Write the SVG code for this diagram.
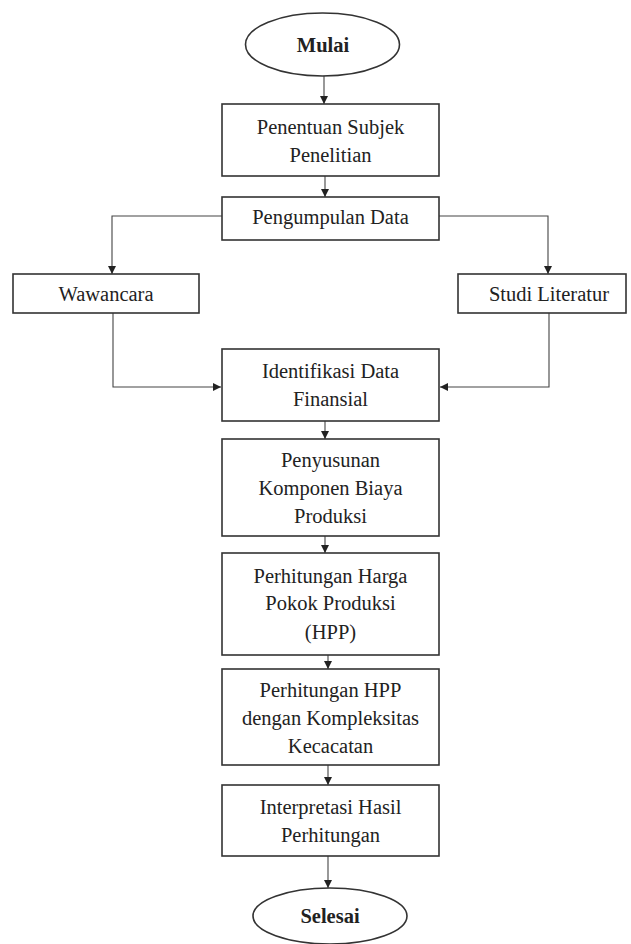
<svg xmlns="http://www.w3.org/2000/svg" width="631" height="944" viewBox="0 0 631 944">
<defs>
<marker id="ah" viewBox="0 0 10 10" refX="10" refY="5" markerWidth="8" markerHeight="8" markerUnits="userSpaceOnUse" orient="auto">
<path d="M0,0 L10,5 L0,10 z" fill="#222"/>
</marker>
<style>
.box{fill:#fff;stroke:#333;stroke-width:1.6}
.t{font-family:"Liberation Serif","Times New Roman",serif;font-size:20.5px;fill:#222;text-anchor:middle}
.b{font-weight:bold}
.c{fill:none;stroke:#444;stroke-width:1.1;marker-end:url(#ah)}
</style>
</defs>
<rect width="631" height="944" fill="#fff"/>
<g id="connectors">
<path class="c" d="M324,76 V104"/>
<path class="c" d="M325,176 V197"/>
<path class="c" d="M222,216 H112 V274"/>
<path class="c" d="M439,216 H548 V274"/>
<path class="c" d="M113,313 V387 H221"/>
<path class="c" d="M549,313 V387 H440"/>
<path class="c" d="M325,421 V439"/>
<path class="c" d="M325,536 V553"/>
<path class="c" d="M328,655 V669"/>
<path class="c" d="M328,765 V785"/>
<path class="c" d="M328,856 V888"/>
</g>
<g id="mulai">
<ellipse class="box" cx="322.5" cy="44.5" rx="77" ry="31.5"/>
<text class="t b" x="323" y="52">Mulai</text>
</g>
<g id="penentuan">
<rect class="box" x="222" y="104" width="217" height="72"/>
<text class="t" x="330.5" y="134">Penentuan Subjek</text>
<text class="t" x="330.5" y="162">Penelitian</text>
</g>
<g id="pengumpulan">
<rect class="box" x="222" y="197" width="217" height="43"/>
<text class="t" x="330.5" y="224">Pengumpulan Data</text>
</g>
<g id="wawancara">
<rect class="box" x="13" y="274" width="186" height="39"/>
<text class="t" x="106" y="301">Wawancara</text>
</g>
<g id="studi">
<rect class="box" x="458" y="274" width="168" height="39"/>
<text class="t" x="549" y="301">Studi Literatur</text>
</g>
<g id="identifikasi">
<rect class="box" x="222" y="349" width="217" height="72"/>
<text class="t" x="330.5" y="378">Identifikasi Data</text>
<text class="t" x="330.5" y="406">Finansial</text>
</g>
<g id="penyusunan">
<rect class="box" x="222" y="439" width="217" height="97"/>
<text class="t" x="330.5" y="467">Penyusunan</text>
<text class="t" x="330.5" y="495">Komponen Biaya</text>
<text class="t" x="330.5" y="523">Produksi</text>
</g>
<g id="perhitungan-hpp">
<rect class="box" x="222" y="553" width="217" height="102"/>
<text class="t" x="330.5" y="583">Perhitungan Harga</text>
<text class="t" x="330.5" y="610">Pokok Produksi</text>
<text class="t" x="330.5" y="639">(HPP)</text>
</g>
<g id="perhitungan-kecacatan">
<rect class="box" x="222" y="669" width="217" height="96"/>
<text class="t" x="330.5" y="697">Perhitungan HPP</text>
<text class="t" x="330.5" y="725">dengan Kompleksitas</text>
<text class="t" x="330.5" y="753">Kecacatan</text>
</g>
<g id="interpretasi">
<rect class="box" x="222" y="785" width="217" height="71"/>
<text class="t" x="330.5" y="814">Interpretasi Hasil</text>
<text class="t" x="330.5" y="842">Perhitungan</text>
</g>
<g id="selesai">
<ellipse class="box" cx="330" cy="916" rx="77" ry="28"/>
<text class="t b" x="330" y="923">Selesai</text>
</g>
</svg>
